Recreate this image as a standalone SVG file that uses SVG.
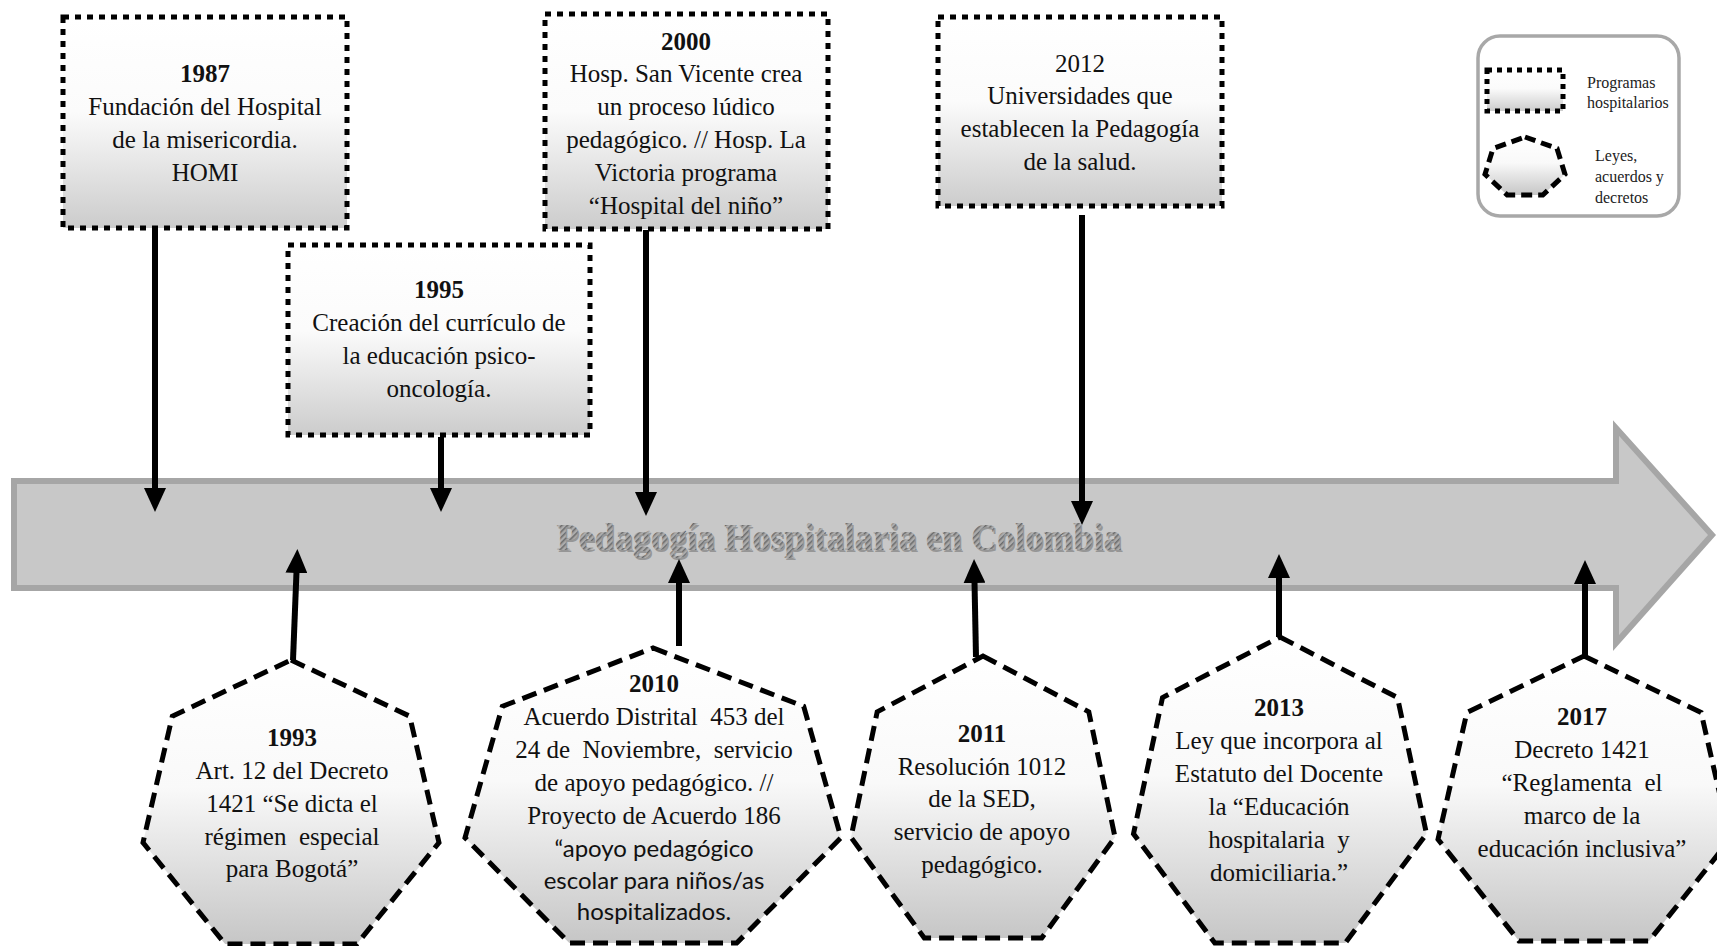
<svg xmlns="http://www.w3.org/2000/svg" width="1717" height="946" viewBox="0 0 1717 946">
<defs>
<linearGradient id="gBox" x1="0" y1="0" x2="0" y2="1">
<stop offset="0" stop-color="#ffffff"/>
<stop offset="0.45" stop-color="#fbfbfb"/>
<stop offset="1" stop-color="#cccccc"/>
</linearGradient>
<linearGradient id="gHep" x1="0" y1="0" x2="0" y2="1">
<stop offset="0" stop-color="#ffffff"/>
<stop offset="0.45" stop-color="#f9f9f9"/>
<stop offset="1" stop-color="#c6c6c6"/>
</linearGradient>
<pattern id="hatch" width="4" height="4" patternUnits="userSpaceOnUse" patternTransform="rotate(45)">
<rect width="4" height="4" fill="#ababab"/>
<rect width="1.5" height="4" fill="#6a6a6a"/>
</pattern>
<marker id="ah" markerUnits="userSpaceOnUse" markerWidth="24" markerHeight="22" viewBox="0 0 24 22" refX="1" refY="11" orient="auto">
<path d="M0,0 L24,11 L0,22 Z" fill="#000"/>
</marker>
<style>
.box{fill:url(#gBox);stroke:#000;stroke-width:5;stroke-dasharray:6 6}
.hep{fill:url(#gHep);stroke:#000;stroke-width:5;stroke-dasharray:15 8;stroke-linejoin:miter}
.t{font-family:"Liberation Serif","Times New Roman",serif;font-size:25px;fill:#111;text-anchor:middle;white-space:pre}
.b{font-weight:bold}
.s{font-family:Lato,"Liberation Sans",sans-serif;font-size:24px}
.lg{font-family:"Liberation Serif","Times New Roman",serif;font-size:16px;fill:#222}
.con{stroke:#000;stroke-width:6;fill:none;marker-end:url(#ah)}
</style>
</defs>
<rect width="1717" height="946" fill="#fff"/>

<g id="timeline">
<polygon points="14,481 1616,481 1616,428 1712,535 1616,643 1616,588 14,588" fill="#c8c8c8" stroke="#a6a6a6" stroke-width="6"/>
<text x="839" y="550" font-family="'Liberation Serif','Times New Roman',serif" font-weight="bold" font-size="38" text-anchor="middle" textLength="565" lengthAdjust="spacingAndGlyphs" fill="#5a5a5a" opacity="0.45" transform="translate(1.5,1.5)">Pedagogía Hospitalaria en Colombia</text>
<text x="839" y="550" font-family="'Liberation Serif','Times New Roman',serif" font-weight="bold" font-size="38" text-anchor="middle" textLength="565" lengthAdjust="spacingAndGlyphs" fill="url(#hatch)">Pedagogía Hospitalaria en Colombia</text>
</g>

<g id="legend">
<rect x="1478" y="36" width="201" height="180" rx="22" fill="#fff" stroke="#a8a8a8" stroke-width="3.5"/>
<rect x="1487" y="70" width="76" height="41" class="box" style="stroke-dasharray:5 5"/>
<text class="lg" x="1587" y="88">Programas</text>
<text class="lg" x="1587" y="108">hospitalarios</text>
<polygon points="1525,137 1557,148.5 1565,174.3 1542.8,195 1507.2,195 1485,174.3 1493,148.5" class="hep" style="stroke-dasharray:11 6"/>
<text class="lg" x="1595" y="161">Leyes,</text>
<text class="lg" x="1595" y="182">acuerdos y</text>
<text class="lg" x="1595" y="203">decretos</text>
</g>

<g id="connectors">
<path class="con" d="M155,228 V489"/>
<path class="con" d="M441,437 V489"/>
<path class="con" d="M646,230 V493"/>
<path class="con" d="M1082,215 V502"/>
<path class="con" d="M293,660 L296.5,572"/>
<path class="con" d="M679,646 V582"/>
<path class="con" d="M976,657 L974.5,582"/>
<path class="con" d="M1279,637 V577"/>
<path class="con" d="M1585,656 V583"/>
</g>

<g id="n1987">
<rect class="box" x="63" y="17" width="284" height="211"/>
<text class="t b" x="205" y="82">1987</text>
<text class="t" x="205" y="115">Fundación del Hospital</text>
<text class="t" x="205" y="148">de la misericordia.</text>
<text class="t" x="205" y="181">HOMI</text>
</g>

<g id="n1995">
<rect class="box" x="288" y="245" width="302" height="190"/>
<text class="t b" x="439" y="298">1995</text>
<text class="t" x="439" y="331">Creación del currículo de</text>
<text class="t" x="439" y="364">la educación psico-</text>
<text class="t" x="439" y="397">oncología.</text>
</g>

<g id="n2000">
<rect class="box" x="545" y="14" width="283" height="215"/>
<text class="t b" x="686" y="50">2000</text>
<text class="t" x="686" y="82">Hosp. San Vicente crea</text>
<text class="t" x="686" y="115">un proceso lúdico</text>
<text class="t" x="686" y="148">pedagógico. // Hosp. La</text>
<text class="t" x="686" y="181">Victoria programa</text>
<text class="t" x="686" y="214">“Hospital del niño”</text>
</g>

<g id="n2012">
<rect class="box" x="938" y="17" width="284" height="189"/>
<text class="t" x="1080" y="72">2012</text>
<text class="t" x="1080" y="104">Universidades que</text>
<text class="t" x="1080" y="137">establecen la Pedagogía</text>
<text class="t" x="1080" y="170">de la salud.</text>
</g>

<g id="n1993">
<polygon class="hep" points="291,660 409.7,716.2 439,842.6 356.9,944 225.1,944 143,842.6 172.3,716.2"/>
<text class="t b" x="292" y="746">1993</text>
<text class="t" x="292" y="779">Art. 12 del Decreto</text>
<text class="t" x="292" y="812">1421 “Se dicta el</text>
<text class="t" x="292" y="845" xml:space="preserve">régimen  especial</text>
<text class="t" x="292" y="877">para Bogotá”</text>
</g>

<g id="n2010">
<polygon class="hep" points="653,648 803.7,706.4 841,837.7 736.7,943 569.3,943 465,837.7 502.3,706.4"/>
<text class="t b" x="654" y="692">2010</text>
<text class="t" x="654" y="725" xml:space="preserve">Acuerdo Distrital  453 del</text>
<text class="t" x="654" y="758" xml:space="preserve">24 de  Noviembre,  servicio</text>
<text class="t" x="654" y="791">de apoyo pedagógico. //</text>
<text class="t" x="654" y="824">Proyecto de Acuerdo 186</text>
<text class="t s" x="654" y="857">“apoyo pedagógico</text>
<text class="t s" x="654" y="889">escolar para niños/as</text>
<text class="t s" x="654" y="920">hospitalizados.</text>
</g>

<g id="n2011">
<polygon class="hep" points="983,656 1088.8,711.8 1115,837.3 1041.7,938 924.3,938 851,837.3 877.2,711.8"/>
<text class="t b" x="982" y="742">2011</text>
<text class="t" x="982" y="775">Resolución 1012</text>
<text class="t" x="982" y="807">de la SED,</text>
<text class="t" x="982" y="840">servicio de apoyo</text>
<text class="t" x="982" y="873">pedagógico.</text>
</g>

<g id="n2013">
<polygon class="hep" points="1280,637 1397.5,697.6 1426.5,833.8 1345.2,943 1214.8,943 1133.5,833.8 1162.5,697.6"/>
<text class="t b" x="1279" y="716">2013</text>
<text class="t" x="1279" y="749">Ley que incorpora al</text>
<text class="t" x="1279" y="782">Estatuto del Docente</text>
<text class="t" x="1279" y="815">la “Educación</text>
<text class="t" x="1279" y="848" xml:space="preserve">hospitalaria  y</text>
<text class="t" x="1279" y="881">domiciliaria.”</text>
</g>

<g id="n2017">
<polygon class="hep" points="1584,656 1701.1,712.4 1730,839.3 1649,941 1519,941 1438,839.3 1466.9,712.4"/>
<text class="t b" x="1582" y="725">2017</text>
<text class="t" x="1582" y="758">Decreto 1421</text>
<text class="t" x="1582" y="791" xml:space="preserve">“Reglamenta  el</text>
<text class="t" x="1582" y="824">marco de la</text>
<text class="t" x="1582" y="857">educación inclusiva”</text>
</g>
</svg>
